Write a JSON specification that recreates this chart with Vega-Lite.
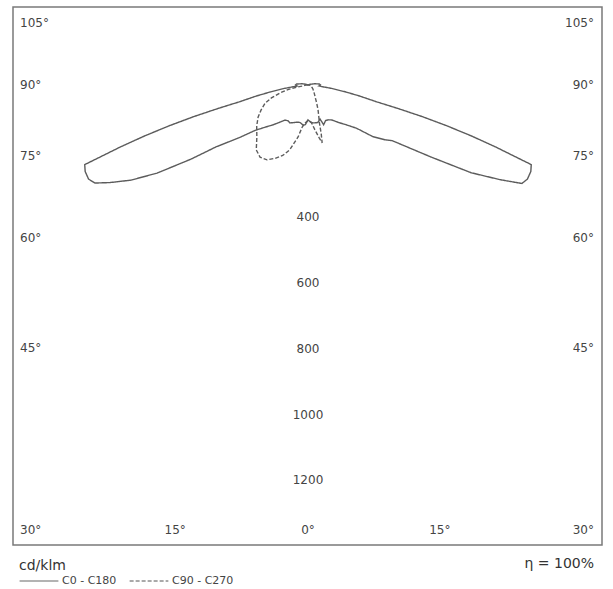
{
  "$schema": "https://vega.github.io/schema/vega-lite/v6.json",
  "width": 589,
  "height": 538,
  "autosize": {"type": "none"},
  "padding": {"left": 13, "top": 7, "right": 11, "bottom": 44},
  "background": "white",
  "config": {"view": {"stroke": "#7a7a7a", "strokeWidth": 1.5}, "font": "DejaVu Sans"},
  "datasets": {
    "curves": [
      {"series": "C0 - C180", "plane": "C0", "angle": 0, "cd": 103},
      {"series": "C0 - C180", "plane": "C0", "angle": 5, "cd": 112},
      {"series": "C0 - C180", "plane": "C0", "angle": 10, "cd": 114},
      {"series": "C0 - C180", "plane": "C0", "angle": 15, "cd": 115},
      {"series": "C0 - C180", "plane": "C0", "angle": 20, "cd": 107},
      {"series": "C0 - C180", "plane": "C0", "angle": 22, "cd": 127},
      {"series": "C0 - C180", "plane": "C0", "angle": 27, "cd": 118},
      {"series": "C0 - C180", "plane": "C0", "angle": 31, "cd": 120},
      {"series": "C0 - C180", "plane": "C0", "angle": 35, "cd": 126},
      {"series": "C0 - C180", "plane": "C0", "angle": 40, "cd": 145},
      {"series": "C0 - C180", "plane": "C0", "angle": 45, "cd": 168},
      {"series": "C0 - C180", "plane": "C0", "angle": 49, "cd": 196},
      {"series": "C0 - C180", "plane": "C0", "angle": 52, "cd": 250},
      {"series": "C0 - C180", "plane": "C0", "angle": 55, "cd": 285},
      {"series": "C0 - C180", "plane": "C0", "angle": 57, "cd": 305},
      {"series": "C0 - C180", "plane": "C0", "angle": 60, "cd": 432},
      {"series": "C0 - C180", "plane": "C0", "angle": 62, "cd": 562},
      {"series": "C0 - C180", "plane": "C0", "angle": 64, "cd": 650},
      {"series": "C0 - C180", "plane": "C0", "angle": 65.5, "cd": 715},
      {"series": "C0 - C180", "plane": "C0", "angle": 67, "cd": 725},
      {"series": "C0 - C180", "plane": "C0", "angle": 69, "cd": 726},
      {"series": "C0 - C180", "plane": "C0", "angle": 70.6, "cd": 720},
      {"series": "C0 - C180", "plane": "C0", "angle": 72, "cd": 600},
      {"series": "C0 - C180", "plane": "C0", "angle": 73, "cd": 520},
      {"series": "C0 - C180", "plane": "C0", "angle": 74, "cd": 440},
      {"series": "C0 - C180", "plane": "C0", "angle": 75, "cd": 360},
      {"series": "C0 - C180", "plane": "C0", "angle": 76, "cd": 280},
      {"series": "C0 - C180", "plane": "C0", "angle": 77, "cd": 215},
      {"series": "C0 - C180", "plane": "C0", "angle": 79, "cd": 160},
      {"series": "C0 - C180", "plane": "C0", "angle": 81, "cd": 117},
      {"series": "C0 - C180", "plane": "C0", "angle": 84, "cd": 75},
      {"series": "C0 - C180", "plane": "C0", "angle": 87, "cd": 45},
      {"series": "C0 - C180", "plane": "C0", "angle": 90, "cd": 33},
      {"series": "C0 - C180", "plane": "C0", "angle": 95, "cd": 38},
      {"series": "C0 - C180", "plane": "C0", "angle": 100, "cd": 35},
      {"series": "C0 - C180", "plane": "C0", "angle": 110, "cd": 20},
      {"series": "C0 - C180", "plane": "C0", "angle": 130, "cd": 8},
      {"series": "C0 - C180", "plane": "C0", "angle": 180, "cd": 3},
      {"series": "C0 - C180", "plane": "C180", "angle": 0, "cd": 103},
      {"series": "C0 - C180", "plane": "C180", "angle": 4, "cd": 118},
      {"series": "C0 - C180", "plane": "C180", "angle": 7, "cd": 120},
      {"series": "C0 - C180", "plane": "C180", "angle": 12, "cd": 114},
      {"series": "C0 - C180", "plane": "C180", "angle": 15.5, "cd": 114},
      {"series": "C0 - C180", "plane": "C180", "angle": 20, "cd": 118},
      {"series": "C0 - C180", "plane": "C180", "angle": 26, "cd": 125},
      {"series": "C0 - C180", "plane": "C180", "angle": 30, "cd": 122},
      {"series": "C0 - C180", "plane": "C180", "angle": 34, "cd": 125},
      {"series": "C0 - C180", "plane": "C180", "angle": 38, "cd": 140},
      {"series": "C0 - C180", "plane": "C180", "angle": 42, "cd": 159},
      {"series": "C0 - C180", "plane": "C180", "angle": 46, "cd": 180},
      {"series": "C0 - C180", "plane": "C180", "angle": 50, "cd": 210},
      {"series": "C0 - C180", "plane": "C180", "angle": 53, "cd": 260},
      {"series": "C0 - C180", "plane": "C180", "angle": 56.5, "cd": 336},
      {"series": "C0 - C180", "plane": "C180", "angle": 58, "cd": 420},
      {"series": "C0 - C180", "plane": "C180", "angle": 60, "cd": 530},
      {"series": "C0 - C180", "plane": "C180", "angle": 62, "cd": 610},
      {"series": "C0 - C180", "plane": "C180", "angle": 64, "cd": 670},
      {"series": "C0 - C180", "plane": "C180", "angle": 65.5, "cd": 712},
      {"series": "C0 - C180", "plane": "C180", "angle": 67, "cd": 725},
      {"series": "C0 - C180", "plane": "C180", "angle": 69, "cd": 726},
      {"series": "C0 - C180", "plane": "C180", "angle": 70.6, "cd": 720},
      {"series": "C0 - C180", "plane": "C180", "angle": 72, "cd": 600},
      {"series": "C0 - C180", "plane": "C180", "angle": 73, "cd": 520},
      {"series": "C0 - C180", "plane": "C180", "angle": 74, "cd": 440},
      {"series": "C0 - C180", "plane": "C180", "angle": 75, "cd": 360},
      {"series": "C0 - C180", "plane": "C180", "angle": 76, "cd": 280},
      {"series": "C0 - C180", "plane": "C180", "angle": 77, "cd": 215},
      {"series": "C0 - C180", "plane": "C180", "angle": 79, "cd": 160},
      {"series": "C0 - C180", "plane": "C180", "angle": 81, "cd": 117},
      {"series": "C0 - C180", "plane": "C180", "angle": 84, "cd": 75},
      {"series": "C0 - C180", "plane": "C180", "angle": 87, "cd": 45},
      {"series": "C0 - C180", "plane": "C180", "angle": 90, "cd": 33},
      {"series": "C0 - C180", "plane": "C180", "angle": 95, "cd": 38},
      {"series": "C0 - C180", "plane": "C180", "angle": 100, "cd": 35},
      {"series": "C0 - C180", "plane": "C180", "angle": 110, "cd": 20},
      {"series": "C0 - C180", "plane": "C180", "angle": 130, "cd": 8},
      {"series": "C0 - C180", "plane": "C180", "angle": 180, "cd": 3},
      {"series": "C90 - C270", "plane": "C90", "angle": 0, "cd": 105},
      {"series": "C90 - C270", "plane": "C90", "angle": 5, "cd": 110},
      {"series": "C90 - C270", "plane": "C90", "angle": 9, "cd": 135},
      {"series": "C90 - C270", "plane": "C90", "angle": 12, "cd": 160},
      {"series": "C90 - C270", "plane": "C90", "angle": 14, "cd": 178},
      {"series": "C90 - C270", "plane": "C90", "angle": 15.5, "cd": 150},
      {"series": "C90 - C270", "plane": "C90", "angle": 17, "cd": 120},
      {"series": "C90 - C270", "plane": "C90", "angle": 20, "cd": 95},
      {"series": "C90 - C270", "plane": "C90", "angle": 23, "cd": 78},
      {"series": "C90 - C270", "plane": "C90", "angle": 27, "cd": 58},
      {"series": "C90 - C270", "plane": "C90", "angle": 32, "cd": 42},
      {"series": "C90 - C270", "plane": "C90", "angle": 40, "cd": 30},
      {"series": "C90 - C270", "plane": "C90", "angle": 50, "cd": 22},
      {"series": "C90 - C270", "plane": "C90", "angle": 60, "cd": 17},
      {"series": "C90 - C270", "plane": "C90", "angle": 70, "cd": 13},
      {"series": "C90 - C270", "plane": "C90", "angle": 80, "cd": 11},
      {"series": "C90 - C270", "plane": "C90", "angle": 90, "cd": 10},
      {"series": "C90 - C270", "plane": "C90", "angle": 100, "cd": 8},
      {"series": "C90 - C270", "plane": "C90", "angle": 120, "cd": 5},
      {"series": "C90 - C270", "plane": "C90", "angle": 180, "cd": 3},
      {"series": "C90 - C270", "plane": "C270", "angle": 0, "cd": 105},
      {"series": "C90 - C270", "plane": "C270", "angle": 4, "cd": 112},
      {"series": "C90 - C270", "plane": "C270", "angle": 8, "cd": 126},
      {"series": "C90 - C270", "plane": "C270", "angle": 11, "cd": 158},
      {"series": "C90 - C270", "plane": "C270", "angle": 16, "cd": 202},
      {"series": "C90 - C270", "plane": "C270", "angle": 20, "cd": 225},
      {"series": "C90 - C270", "plane": "C270", "angle": 24, "cd": 240},
      {"series": "C90 - C270", "plane": "C270", "angle": 29, "cd": 257},
      {"series": "C90 - C270", "plane": "C270", "angle": 34, "cd": 261},
      {"series": "C90 - C270", "plane": "C270", "angle": 39, "cd": 250},
      {"series": "C90 - C270", "plane": "C270", "angle": 45, "cd": 220},
      {"series": "C90 - C270", "plane": "C270", "angle": 52, "cd": 198},
      {"series": "C90 - C270", "plane": "C270", "angle": 58, "cd": 179},
      {"series": "C90 - C270", "plane": "C270", "angle": 63, "cd": 160},
      {"series": "C90 - C270", "plane": "C270", "angle": 68, "cd": 141},
      {"series": "C90 - C270", "plane": "C270", "angle": 72, "cd": 117},
      {"series": "C90 - C270", "plane": "C270", "angle": 76, "cd": 88},
      {"series": "C90 - C270", "plane": "C270", "angle": 80, "cd": 62},
      {"series": "C90 - C270", "plane": "C270", "angle": 84, "cd": 35},
      {"series": "C90 - C270", "plane": "C270", "angle": 87, "cd": 22},
      {"series": "C90 - C270", "plane": "C270", "angle": 90, "cd": 15},
      {"series": "C90 - C270", "plane": "C270", "angle": 100, "cd": 10},
      {"series": "C90 - C270", "plane": "C270", "angle": 120, "cd": 6},
      {"series": "C90 - C270", "plane": "C270", "angle": 180, "cd": 3}
    ],
    "labels": [
      {"grp": "L", "label": "105°", "x": -876, "y": 192},
      {"grp": "L", "label": "90°", "x": -876, "y": 3},
      {"grp": "L", "label": "75°", "x": -876, "y": -213},
      {"grp": "L", "label": "60°", "x": -876, "y": -462},
      {"grp": "L", "label": "45°", "x": -876, "y": -797},
      {"grp": "L", "label": "30°", "x": -876, "y": -1350},
      {"grp": "R", "label": "105°", "x": 870, "y": 192},
      {"grp": "R", "label": "90°", "x": 870, "y": 3},
      {"grp": "R", "label": "75°", "x": 870, "y": -213},
      {"grp": "R", "label": "60°", "x": 870, "y": -462},
      {"grp": "R", "label": "45°", "x": 870, "y": -797},
      {"grp": "R", "label": "30°", "x": 870, "y": -1350},
      {"grp": "C", "label": "15°", "x": -404, "y": -1350},
      {"grp": "C", "label": "0°", "x": 0, "y": -1350},
      {"grp": "C", "label": "15°", "x": 401, "y": -1350},
      {"grp": "C", "label": "400", "x": 0, "y": -400},
      {"grp": "C", "label": "600", "x": 0, "y": -600},
      {"grp": "C", "label": "800", "x": 0, "y": -800},
      {"grp": "C", "label": "1000", "x": 0, "y": -1000},
      {"grp": "C", "label": "1200", "x": 0, "y": -1200}
    ],
    "notes": [
      {"grp": "unit", "label": "cd/klm", "x": -879, "y": -1460},
      {"grp": "eta", "label": "η = 100%", "x": 870, "y": -1454}
    ]
  },
  "layer": [
    {
      "data": {"name": "curves"},
      "transform": [
        {"calculate": "(datum.plane == 'C0' || datum.plane == 'C90') ? 1 : -1", "as": "side"},
        {"calculate": "datum.side * datum.cd * sin(datum.angle * PI / 180)", "as": "px"},
        {"calculate": "-datum.cd * cos(datum.angle * PI / 180)", "as": "py"},
        {"calculate": "datum.side == 1 ? 180 + datum.angle : 180 - datum.angle", "as": "ord"}
      ],
      "mark": {"type": "line", "stroke": "#5c5c5c", "strokeWidth": 1.4},
      "encoding": {
        "x": {"field": "px", "type": "quantitative", "scale": {"domain": [-897.3, 894.3], "nice": false, "zero": false}, "axis": null},
        "y": {"field": "py", "type": "quantitative", "scale": {"domain": [-1396.2, 240.3], "nice": false, "zero": false}, "axis": null},
        "order": {"field": "ord", "type": "quantitative"},
        "strokeDash": {
          "field": "series",
          "type": "nominal",
          "scale": {"domain": ["C0 - C180", "C90 - C270"], "range": [[1, 0], [4, 2]]},
          "legend": {
            "orient": "none",
            "legendX": 6,
            "legendY": 554,
            "direction": "horizontal",
            "title": null,
            "padding": 0,
            "symbolType": "stroke",
            "symbolSize": 1500,
            "symbolStrokeWidth": 1,
            "symbolStrokeColor": "#555",
            "symbolFillColor": "transparent",
            "labelFont": "DejaVu Sans",
            "labelFontSize": 11,
            "labelColor": "#444",
            "labelOffset": 3,
            "columnPadding": 10
          }
        }
      }
    },
    {
      "data": {"name": "labels"},
      "transform": [{"filter": "datum.grp == 'L'"}],
      "mark": {"type": "text", "align": "left", "baseline": "middle", "fontSize": 12, "font": "DejaVu Sans", "color": "#444"},
      "encoding": {
        "x": {"field": "x", "type": "quantitative", "scale": {"domain": [-897.3, 894.3], "nice": false, "zero": false}, "axis": null},
        "y": {"field": "y", "type": "quantitative", "scale": {"domain": [-1396.2, 240.3], "nice": false, "zero": false}, "axis": null},
        "text": {"field": "label"}
      }
    },
    {
      "data": {"name": "labels"},
      "transform": [{"filter": "datum.grp == 'R'"}],
      "mark": {"type": "text", "align": "right", "baseline": "middle", "fontSize": 12, "font": "DejaVu Sans", "color": "#444"},
      "encoding": {
        "x": {"field": "x", "type": "quantitative", "scale": {"domain": [-897.3, 894.3], "nice": false, "zero": false}, "axis": null},
        "y": {"field": "y", "type": "quantitative", "scale": {"domain": [-1396.2, 240.3], "nice": false, "zero": false}, "axis": null},
        "text": {"field": "label"}
      }
    },
    {
      "data": {"name": "labels"},
      "transform": [{"filter": "datum.grp == 'C'"}],
      "mark": {"type": "text", "align": "center", "baseline": "middle", "fontSize": 12, "font": "DejaVu Sans", "color": "#444"},
      "encoding": {
        "x": {"field": "x", "type": "quantitative", "scale": {"domain": [-897.3, 894.3], "nice": false, "zero": false}, "axis": null},
        "y": {"field": "y", "type": "quantitative", "scale": {"domain": [-1396.2, 240.3], "nice": false, "zero": false}, "axis": null},
        "text": {"field": "label"}
      }
    },
    {
      "data": {"name": "notes"},
      "transform": [{"filter": "datum.grp == 'unit'"}],
      "mark": {"type": "text", "align": "left", "baseline": "middle", "fontSize": 14, "font": "DejaVu Sans", "color": "#333"},
      "encoding": {
        "x": {"field": "x", "type": "quantitative", "scale": {"domain": [-897.3, 894.3], "nice": false, "zero": false}, "axis": null},
        "y": {"field": "y", "type": "quantitative", "scale": {"domain": [-1396.2, 240.3], "nice": false, "zero": false}, "axis": null},
        "text": {"field": "label"}
      }
    },
    {
      "data": {"name": "notes"},
      "transform": [{"filter": "datum.grp == 'eta'"}],
      "mark": {"type": "text", "align": "right", "baseline": "middle", "fontSize": 14, "font": "DejaVu Sans", "color": "#333"},
      "encoding": {
        "x": {"field": "x", "type": "quantitative", "scale": {"domain": [-897.3, 894.3], "nice": false, "zero": false}, "axis": null},
        "y": {"field": "y", "type": "quantitative", "scale": {"domain": [-1396.2, 240.3], "nice": false, "zero": false}, "axis": null},
        "text": {"field": "label"}
      }
    }
  ]
}
